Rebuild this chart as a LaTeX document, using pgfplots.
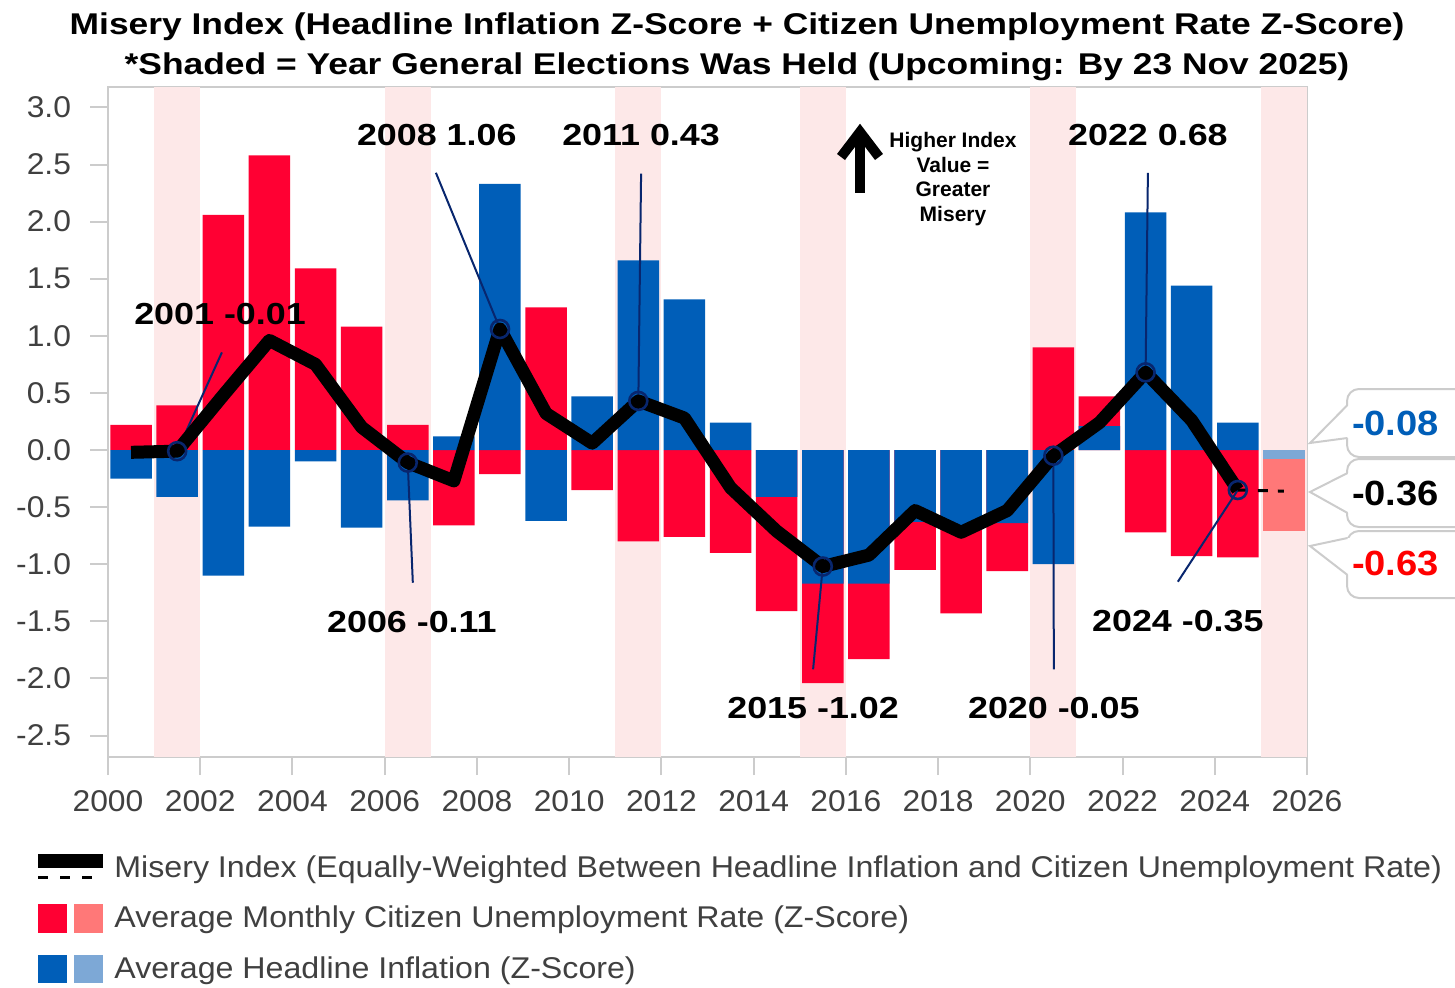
\documentclass[border=0pt]{standalone}
\usepackage{fontspec}
\setmainfont{Liberation Sans}
\newfontfamily\regw[FakeStretch=1.06]{Liberation Sans}
\newfontfamily\legw[FakeStretch=1.072]{Liberation Sans}
\newfontfamily\boldw[FakeStretch=1.18]{Liberation Sans Bold}
\newfontfamily\calw[FakeStretch=1.09]{Liberation Sans Bold}
\usepackage{pgfplots}
\pgfplotsset{compat=1.18}
\usepackage{pgfplotstable}
\definecolor{ured}{RGB}{255,0,51}
\definecolor{iblue}{RGB}{0,94,184}
\definecolor{lred}{RGB}{255,120,120}
\definecolor{lblue}{RGB}{125,168,214}
\definecolor{elecpink}{RGB}{253,232,232}
\definecolor{navy}{RGB}{8,38,110}
\definecolor{axgray}{RGB}{204,204,204}
\definecolor{txtgray}{RGB}{64,64,64}
\definecolor{calred}{RGB}{255,0,0}

\pgfplotstableread{
year blue red idx
2000 -0.25 0.22 -0.02
2001 -0.41 0.39 -0.01
2002 -1.10 2.06 0.48
2003 -0.67 2.58 0.96
2004 -0.10 1.59 0.75
2005 -0.68 1.08 0.20
2006 -0.44 0.22 -0.11
2007 0.12 -0.66 -0.27
2008 2.33 -0.21 1.06
2009 -0.62 1.25 0.32
2010 0.47 -0.35 0.06
2011 1.66 -0.80 0.43
2012 1.32 -0.76 0.28
2013 0.24 -0.90 -0.33
2014 -0.41 -1.00 -0.71
2015 -1.17 -0.87 -1.02
2016 -1.17 -0.66 -0.92
2017 -0.63 -0.42 -0.53
2018 -0.70 -0.73 -0.72
2019 -0.64 -0.42 -0.53
2020 -1.00 0.90 -0.05
2021 0.21 0.26 0.24
2022 2.08 -0.72 0.68
2023 1.44 -0.93 0.26
2024 0.24 -0.94 -0.35
}\maindata

\pgfplotstableread{
year blue red idx
2025 -0.08 -0.63 -0.36
}\lastdata

\begin{document}
\begin{tikzpicture}
\path[use as bounding box] (0,0) rectangle (727.5pt,493.5pt);
\begin{axis}[
  at={(54pt,115pt)}, anchor=south west,
  scale only axis, width=599.5pt, height=335pt,
  xmin=2000, xmax=2026, ymin=-2.688, ymax=3.179,
  axis line style={axgray, line width=1pt},
  xtick={2000,2002,...,2026}, ytick={-2.5,-2,...,3},
  tick align=outside, major tick length=9pt,
  xtick pos=left, ytick pos=left,
  tick style={axgray, line width=1pt},
  ticklabel style={font=\regw\fontsize{15pt}{18pt}\selectfont, text=txtgray},
  /pgf/number format/assume math mode=true,
  xticklabel style={yshift=-4pt, /pgf/number format/1000 sep={}},
  yticklabel style={xshift=-6pt, /pgf/number format/.cd, fixed, fixed zerofill, precision=1},
  clip=false,
]
% election-year shading
\fill[elecpink] (axis cs:2001,-2.688) rectangle (axis cs:2002,3.179);
\fill[elecpink] (axis cs:2006,-2.688) rectangle (axis cs:2007,3.179);
\fill[elecpink] (axis cs:2011,-2.688) rectangle (axis cs:2012,3.179);
\fill[elecpink] (axis cs:2015,-2.688) rectangle (axis cs:2016,3.179);
\fill[elecpink] (axis cs:2020,-2.688) rectangle (axis cs:2021,3.179);
\fill[elecpink] (axis cs:2025,-2.688) rectangle (axis cs:2026,3.179);

% bars: unemployment (red) stacked outside inflation (blue) when same sign
\addplot[ybar, bar width=0.9, bar shift=0pt, fill=ured, draw=none]
  table[x expr=\thisrow{year}+0.5, y expr={(\thisrow{blue}*\thisrow{red}>0) ? (\thisrow{blue}+\thisrow{red}) : \thisrow{red}}] {\maindata};
\addplot[ybar, bar width=0.9, bar shift=0pt, fill=iblue, draw=none]
  table[x expr=\thisrow{year}+0.5, y=blue] {\maindata};
\addplot[ybar, bar width=0.9, bar shift=0pt, fill=lred, draw=none]
  table[x expr=\thisrow{year}+0.5, y expr={\thisrow{blue}+\thisrow{red}}] {\lastdata};
\addplot[ybar, bar width=0.9, bar shift=0pt, fill=lblue, draw=none]
  table[x expr=\thisrow{year}+0.5, y=blue] {\lastdata};

% leader lines
\draw[navy, line width=1pt] (axis cs:2001.5,-0.01) -- (axis cs:2002.47,0.855);
\draw[navy, line width=1pt] (axis cs:2006.5,-0.11) -- (axis cs:2006.61,-1.162);
\draw[navy, line width=1pt] (axis cs:2008.5,1.06) -- (axis cs:2007.11,2.428);
\draw[navy, line width=1pt] (axis cs:2011.5,0.43) -- (axis cs:2011.56,2.42);
\draw[navy, line width=1pt] (axis cs:2015.5,-1.02) -- (axis cs:2015.29,-1.92);
\draw[navy, line width=1pt] (axis cs:2020.5,-0.05) -- (axis cs:2020.51,-1.92);
\draw[navy, line width=1pt] (axis cs:2022.5,0.68) -- (axis cs:2022.55,2.426);
\draw[navy, line width=1pt] (axis cs:2024.5,-0.35) -- (axis cs:2023.20,-1.153);

% misery index
\addplot[black, line width=6.5pt, line join=round, no markers]
  table[x expr=\thisrow{year}+0.5, y=idx] {\maindata};
\addplot[black, line width=1.5pt, dash pattern=on 5pt off 5pt, no markers]
  coordinates {(2024.5,-0.35) (2025.5,-0.36)};
\addplot[only marks, mark=o, mark size=4.5pt, mark options={draw=navy, line width=1.3pt}]
  coordinates {(2001.5,-0.01) (2006.5,-0.11) (2008.5,1.06) (2011.5,0.43) (2015.5,-1.02) (2020.5,-0.05) (2022.5,0.68) (2024.5,-0.35)};

% data labels
\begin{scope}[every node/.style={font=\boldw\fontsize{15.2pt}{18pt}\selectfont}]
\node at (axis cs:2002.43,1.19) {2001 -0.01};
\node at (axis cs:2006.59,-1.506) {2006 -0.11};
\node at (axis cs:2007.13,2.758) {2008 1.06};
\node at (axis cs:2011.56,2.758) {2011 0.43};
\node at (axis cs:2015.29,-2.259) {2015 -1.02};
\node at (axis cs:2020.51,-2.259) {2020 -0.05};
\node at (axis cs:2022.55,2.758) {2022 0.68};
\node at (axis cs:2023.20,-1.497) {2024 -0.35};
\end{scope}
\end{axis}

\begin{scope}[x=0.5pt, y=-0.5pt, shift={(0,-987)}]
% title
\node[anchor=base, font=\boldw\fontsize{15pt}{18pt}\selectfont] at (737,35)
  {Misery Index (Headline Inflation Z-Score + Citizen Unemployment Rate Z-Score)};
\node[anchor=base, font=\boldw\fontsize{15pt}{18pt}\selectfont] at (737,75)
  {*Shaded = Year General Elections Was Held (Upcoming: By 23 Nov 2025)};
% arrow annotation
\draw[line width=5pt] (860,193) -- (860,134);
\draw[line width=5pt, line join=miter, line cap=butt] (841,157) -- (860,132) -- (879,157);
\node[align=center, font=\bfseries\fontsize{10.5pt}{12.25pt}\selectfont] at (953,179)
  {Higher Index\\Value =\\Greater\\Misery};
% legend
\fill[black] (38,854) rectangle (103,868);
\foreach \a in {38,60,82} \fill[black] (\a,875.5) rectangle (\a+10,878.5);
\fill[ured] (38,904) rectangle (67,933);
\fill[lred] (74,904) rectangle (103,933);
\fill[iblue] (38,955) rectangle (67,983);
\fill[lblue] (74,955) rectangle (103,983);
\begin{scope}[every node/.style={anchor=base west, inner sep=0pt, text=txtgray, font=\legw\fontsize{15pt}{18pt}\selectfont}]
\node at (114,877) {Misery Index (Equally-Weighted Between Headline Inflation and Citizen Unemployment Rate)};
\node at (114,927) {Average Monthly Citizen Unemployment Rate (Z-Score)};
\node at (114,978) {Average Headline Inflation (Z-Score)};
\end{scope}
% callouts
\foreach \t/\b/\u/\l/\tip in {389/457/405/438/443, 459/527/473/513/492, 531/598/538/575/546}{
  \draw[axgray, line width=1pt, fill=white, rounded corners=6pt] (1347,\t) rectangle (1475,\b);
  \fill[white] (1345,\u) rectangle (1350,\l);
  \fill[white] (1348,\u) -- (1310,\tip) -- (1348,\l) -- cycle;
  \draw[axgray, line width=1pt] (1347.5,\u) -- (1310,\tip) -- (1347.5,\l);
}
\begin{scope}[every node/.style={anchor=east, font=\calw\fontsize{17.5pt}{21pt}\selectfont}]
\node[text=iblue] at (1446,423) {-0.08};
\node[text=black] at (1446,493) {-0.36};
\node[text=calred] at (1446,563) {-0.63};
\end{scope}
\end{scope}
\end{tikzpicture}
\end{document}
